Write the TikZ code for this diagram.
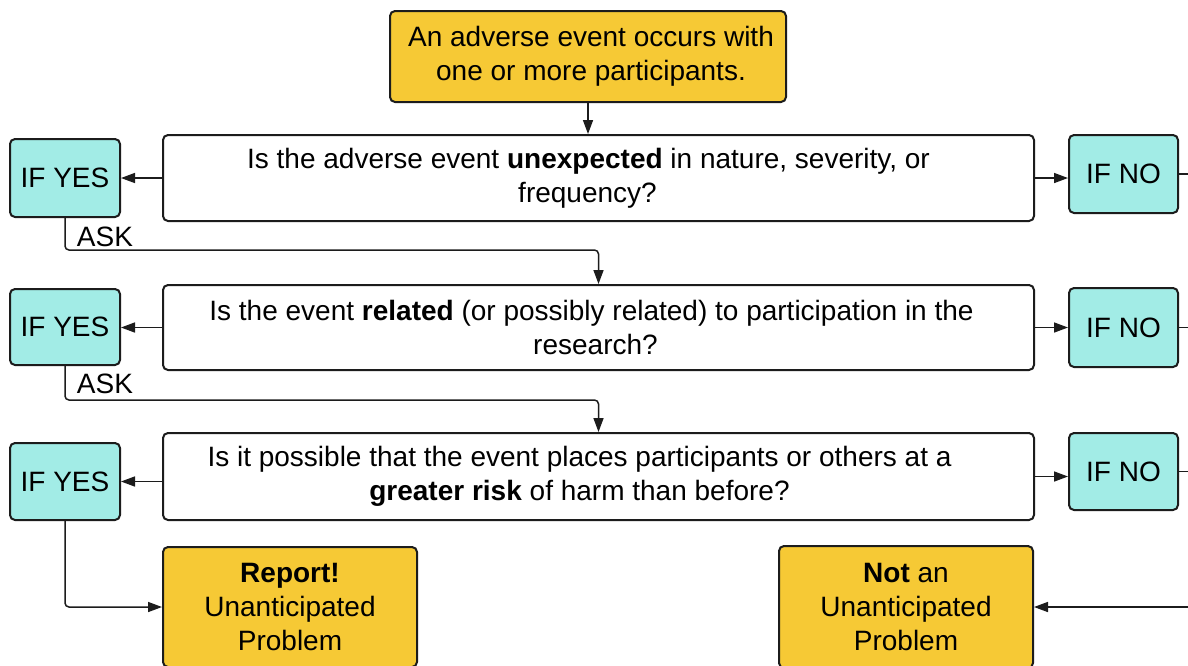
\documentclass[tikz,border=0pt]{standalone}
\usepackage{fontspec}
\setmainfont{Liberation Sans}
\usetikzlibrary{arrows.meta}
\definecolor{ylw}{HTML}{F6C935}
\definecolor{cyn}{HTML}{A2ECE6}
\definecolor{edgec}{HTML}{1C1C1C}
\begin{document}
\begin{tikzpicture}[x=1pt,y=-1pt,font=\fontsize{28}{34}\selectfont,
 box/.style={draw=edgec,line width=2pt,rounded corners=5pt,align=center,inner sep=0pt},
 ques/.style={box,fill=white,minimum width=871pt,minimum height=86pt},
 yesbox/.style={box,fill=cyn,minimum width=110pt,minimum height=78pt},
 term/.style={box,fill=ylw},
 conn/.style={draw=edgec,line width=1.5pt},
 arr/.style={conn,-{Triangle[length=14pt,width=10pt]}}]
\clip (0,0) rectangle (1188,665);
\fill[white] (0,0) rectangle (1188,665);
\coordinate (edgeR) at (1192,0);
% top
\node[term,minimum width=396pt,minimum height=91pt] (start) at (588,56.5) {\hspace*{6pt}An adverse event occurs with\\\hspace*{6pt}one or more participants.};
% questions
\node[ques] (q1) at (598.5,178) {\hspace*{-20pt}Is the adverse event \textbf{unexpected} in nature, severity, or\\\hspace*{-22pt}frequency?};
\node[ques,minimum height=85pt] (q2) at (598.5,327.5) {\hspace*{-14pt}Is the event \textbf{related} (or possibly related) to participation in the\\\hspace*{-6pt}research?};
\node[ques,minimum height=87pt] (q3) at (598.5,476.5) {\hspace*{-38pt}Is it possible that the event places participants or others at a\\\hspace*{-38pt}\textbf{greater risk} of harm than before?};
% yes boxes
\node[yesbox] (yes1) at (65,178) {IF YES};
\node[yesbox,minimum height=76pt] (yes2) at (65,327) {IF YES};
\node[yesbox,minimum height=77pt] (yes3) at (65,481.5) {IF YES};
% no boxes
\node[yesbox,minimum width=109pt] (no1) at (1123.5,174) {IF NO};
\node[yesbox,minimum width=109pt,minimum height=79pt] (no2) at (1123.5,327.5) {IF NO};
\node[yesbox,minimum width=109pt,minimum height=77pt] (no3) at (1123.5,471.5) {IF NO};
% outcomes
\node[term,minimum width=254pt,minimum height=120pt] (report) at (290,607) {\textbf{Report!}\\Unanticipated\\Problem};
\node[term,minimum width=254pt,minimum height=122pt] (notup) at (906,607) {\textbf{Not} an\\Unanticipated\\Problem};
% ask labels
\node[inner sep=0pt] (ask1) at (105,237) {ASK};
\node[inner sep=0pt] (ask2) at (105,384) {ASK};
% connectors
\draw[arr] (start.south) -- (start.south |- q1.north);
\draw[arr] (q1.west) -- (yes1.east);
\draw[arr] (q2.west) -- (q2.west -| yes2.east);
\draw[arr] (q3.west |- yes3.east) -- (yes3.east);
\draw[arr] (q1.east) -- (q1.east -| no1.west);
\draw[arr] (q2.east) -- (q2.east -| no2.west);
\draw[arr] (q3.east) -- (q3.east -| no3.west);
\draw[conn] (no1.east) -- (no1.east -| edgeR);
\draw[conn] (no2.east) -- (no2.east -| edgeR);
\draw[conn] (no3.east) -- (no3.east -| edgeR);
\draw[arr,rounded corners=4pt] (yes1.south) |- (598.5,250) -- (q2.north);
\draw[arr,rounded corners=4pt] (yes2.south) |- (598.5,400) -- (q3.north);
\draw[arr,rounded corners=4pt] (yes3.south) |- (report.west);
\draw[arr] (notup.east -| edgeR) -- (notup.east);
\end{tikzpicture}
\end{document}
